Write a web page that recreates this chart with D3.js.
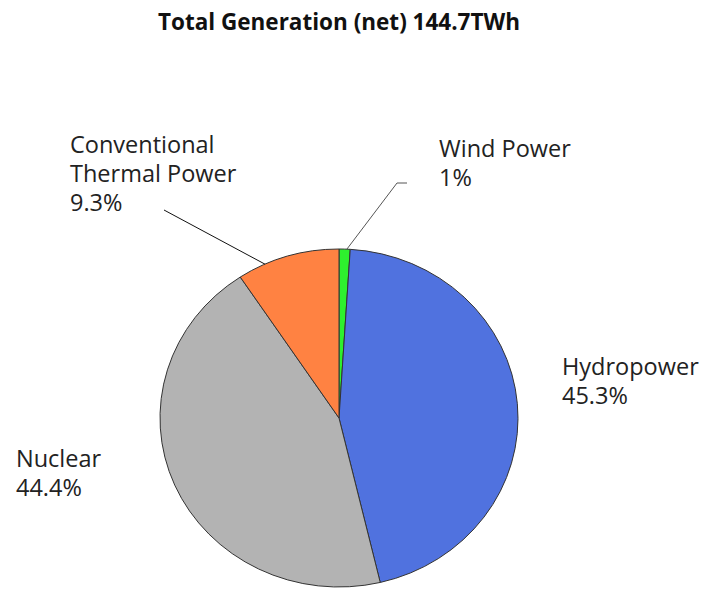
<!DOCTYPE html>
<html>
<head>
<meta charset="utf-8">
<script src="https://cdn.jsdelivr.net/npm/d3@7"></script>
<style>
  html, body { margin: 0; padding: 0; background: #fff; }
  svg { display: block; }
</style>
</head>
<body>
<svg id="chart" width="703" height="589"></svg>
<script>
// ---- data ----
const title = "Total Generation (net) 144.7TWh";
const categories = ["Wind Power", "Hydropower", "Nuclear", "Conventional Thermal Power"];
const values = [1.0, 45.3, 44.4, 9.3];
const valueLabels = ["1%", "45.3%", "44.4%", "9.3%"];
const labelLines = [["Wind Power"], ["Hydropower"], ["Nuclear"], ["Conventional", "Thermal Power"]];
const colors = ["#2EF02E", "#5072DF", "#B3B3B3", "#FF8242"];

// ---- layout ----
const W = 703, H = 589;
const cx = 339, cy = 418, rx = 179, ry = 169;
const fontFamily = "'Open Sans', 'DejaVu Sans', sans-serif";
const labelLayout = [
  { x: 439, y: 157, anchorF: 0.7, leader: [[397, 183], [407, 183]], leaderColor: "#555" },
  { x: 562, y: 375 },
  { x: 16, y: 467 },
  { x: 70, y: 153, anchorF: 0.27, leader: [[164, 210]], leaderColor: "#111" }
];
const lineH = 29;

const svg = d3.select("#chart");

svg.append("text")
  .attr("x", 339).attr("y", 30)
  .attr("text-anchor", "middle")
  .attr("font-family", fontFamily)
  .attr("font-weight", "bold")
  .attr("font-size", 22.5)
  .attr("fill", "#111")
  .text(title);

const pie = d3.pie().sort(null).value(d => d).startAngle(0).endAngle(2 * Math.PI);
const arcs = pie(values);
const arc = d3.arc().innerRadius(0).outerRadius(rx);

const g = svg.append("g")
  .attr("transform", `translate(${cx},${cy}) scale(1,${ry / rx})`);

g.selectAll("path")
  .data(arcs)
  .join("path")
  .attr("d", arc)
  .attr("fill", (d, i) => colors[i])
  .attr("stroke", "#333")
  .attr("stroke-width", 1)
  .attr("vector-effect", "non-scaling-stroke");

// leader lines
arcs.forEach((a, i) => {
  const L = labelLayout[i];
  if (!L.leader) return;
  const ang = a.startAngle + L.anchorF * (a.endAngle - a.startAngle);
  const p0 = [cx + rx * Math.sin(ang), cy - ry * Math.cos(ang)];
  const pts = [p0, ...L.leader];
  svg.append("path")
    .attr("d", d3.line()(pts))
    .attr("fill", "none")
    .attr("stroke", L.leaderColor)
    .attr("stroke-width", 1);
});

// labels
categories.forEach((c, i) => {
  const L = labelLayout[i];
  const lines = [...labelLines[i], valueLabels[i]];
  const t = svg.append("text")
    .attr("font-family", fontFamily)
    .attr("font-size", 23.5)
    .attr("fill", "#222");
  lines.forEach((ln, k) => {
    t.append("tspan").attr("x", L.x).attr("y", L.y + k * lineH).text(ln);
  });
});
</script>
</body>
</html>
